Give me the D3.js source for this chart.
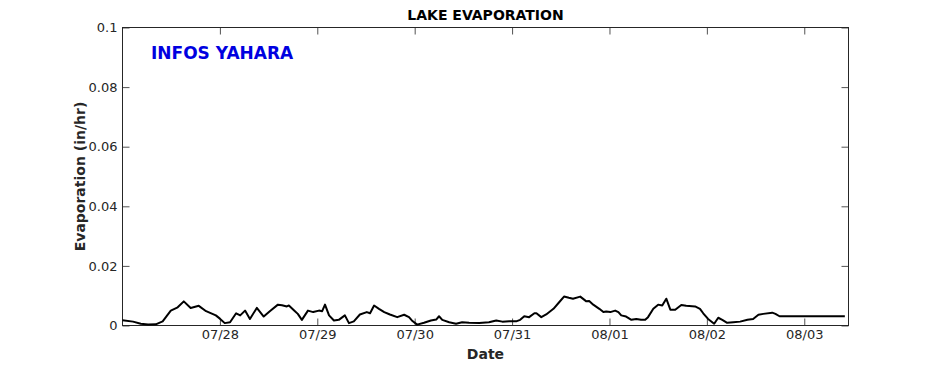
<!DOCTYPE html>
<html>
<head>
<meta charset="utf-8">
<script src="https://cdn.jsdelivr.net/npm/d3@7"></script>
<style>
  html, body { margin: 0; padding: 0; background: #fff; }
  svg { display: block; font-family: "DejaVu Sans", sans-serif; }
</style>
</head>
<body>
<svg id="chart" width="938" height="365"></svg>
<script>
// ---- data (hours after 07/27 00:00, evaporation in/hr) ----
const baseDate = new Date(2016, 6, 27, 0, 0);
const hours = [
  0, 2.6, 4.5, 6.3, 8.2, 9.9, 11.9, 13.6, 15.1, 16.8, 18.8, 20.6, 23.0,
  24, 25.2, 26.5, 28, 29, 30.2, 31.4, 33.1, 34.8, 36.3, 38.3, 39.3, 40.5, 41, 42.5, 43.2, 44.2, 45.7, 47,
  48.4, 49.2, 49.9, 50.9, 52.1, 53.3, 54.8, 55.8, 57.0, 58.5, 60.2, 61, 62, 63.2, 64.5, 65.9, 67.7, 69.4, 70.6, 71.3,
  72.6, 74.3, 76.0, 77.3, 78, 78.8, 80.5, 82.2, 83.7, 85.4, 87.9, 90.3, 92.1, 93.6, 95.3,
  97, 98, 99, 100.2, 101.5, 102, 103.2, 104.4, 106.2, 107.6, 108.8, 110, 111, 112.8, 114.3, 115, 116, 117.5, 118.5, 119.2,
  120.2, 121.4, 122.2, 122.9, 124.1, 125.4, 126.6, 127.8, 128.8, 129.5, 130.8, 132, 133, 134, 135, 136.2, 137.7, 138.9, 141.1, 142.3, 143.1,
  144.3, 145.8, 146.8, 147.8, 149, 150.5, 152.2, 154, 155.4, 156.7, 157.9, 160.1, 160.9, 161.9, 166, 170, 174, 178
];
const evap = [
  0.0018, 0.0013, 0.0006, 0.0003, 0.0004, 0.0014, 0.0050, 0.0061, 0.0081, 0.0059, 0.0066, 0.0048, 0.0034,
  0.0023, 0.0008, 0.0011, 0.0041, 0.0034, 0.0050, 0.0022, 0.0059, 0.0030, 0.0048, 0.0070, 0.0068, 0.0064, 0.0067, 0.0048, 0.0039, 0.0019, 0.0050, 0.0045,
  0.0050, 0.0048, 0.0070, 0.0034, 0.0017, 0.0019, 0.0034, 0.0008, 0.0014, 0.0037, 0.0045, 0.0041, 0.0067, 0.0056, 0.0045, 0.0037, 0.0028, 0.0036, 0.0028, 0.0017,
  0.0003, 0.0009, 0.0017, 0.0020, 0.0031, 0.0019, 0.0011, 0.0006, 0.0011, 0.0009, 0.0008, 0.0011, 0.0017, 0.0013, 0.0014,
  0.0014, 0.0019, 0.0031, 0.0028, 0.0041, 0.0041, 0.0028, 0.0037, 0.0056, 0.0078, 0.0097, 0.0093, 0.0090, 0.0097, 0.0081, 0.0082, 0.0070, 0.0056, 0.0045, 0.0047,
  0.0045, 0.0050, 0.0045, 0.0034, 0.0030, 0.0019, 0.0022, 0.0019, 0.0019, 0.0028, 0.0056, 0.0070, 0.0067, 0.0090, 0.0053, 0.0053, 0.0069, 0.0066, 0.0064, 0.0056, 0.0041,
  0.0022, 0.0006, 0.0026, 0.0019, 0.0009, 0.0011, 0.0013, 0.0019, 0.0022, 0.0036, 0.0039, 0.0043, 0.0039, 0.0031, 0.0031, 0.0031, 0.0031, 0.0031
];
const xTickDays = ["07/28", "07/29", "07/30", "07/31", "08/01", "08/02", "08/03"];
const yTicks = [0, 0.02, 0.04, 0.06, 0.08, 0.1];
const yTickLabels = ["0", "0.02", "0.04", "0.06", "0.08", "0.1"];
const domainEndHours = 178.9;

// ---- layout ----
const svg = d3.select("#chart");
const L = 122.5, R = 848.5, T = 27.5, B = 325.5;
const tickLen = 7;
const textColor = "#262626";

const toDate = h => new Date(baseDate.getTime() + h * 3600 * 1000);
const data = hours.map((h, i) => ({ t: toDate(h), v: evap[i] }));

const x = d3.scaleTime()
  .domain([baseDate, toDate(domainEndHours)])
  .range([L, R]);
const y = d3.scaleLinear().domain([0, 0.1]).range([B, T]);

const parseTick = d3.timeParse("%Y/%m/%d");
const xTickDates = xTickDays.map(s => parseTick("2016/" + s));

// bottom axis (ticks inward)
const xAxisB = d3.axisBottom(x).tickValues(xTickDates)
  .tickFormat(d3.timeFormat("%m/%d")).tickSizeInner(-tickLen).tickSizeOuter(0).tickPadding(4);
const gxb = svg.append("g").attr("transform", `translate(0,${B})`).call(xAxisB);
// top axis (ticks only)
const xAxisT = d3.axisTop(x).tickValues(xTickDates).tickFormat("").tickSizeInner(-tickLen).tickSizeOuter(0);
const gxt = svg.append("g").attr("transform", `translate(0,${T})`).call(xAxisT);
// left axis
const yAxisL = d3.axisLeft(y).tickValues(yTicks).tickFormat((d, i) => yTickLabels[i])
  .tickSizeInner(-tickLen).tickSizeOuter(0).tickPadding(5);
const gyl = svg.append("g").attr("transform", `translate(${L},0)`).call(yAxisL);
// right axis
const yAxisR = d3.axisRight(y).tickValues(yTicks).tickFormat("").tickSizeInner(-tickLen).tickSizeOuter(0);
const gyr = svg.append("g").attr("transform", `translate(${R},0)`).call(yAxisR);

[gxb, gxt, gyl, gyr].forEach(g => {
  g.select(".domain").remove();
  g.selectAll(".tick line").attr("stroke", textColor).attr("stroke-width", 0.8);
  g.selectAll(".tick text").attr("fill", textColor)
    .style("font-family", "'DejaVu Sans', sans-serif").style("font-size", "13px");
});

// box
svg.append("rect").attr("x", L).attr("y", T).attr("width", R - L).attr("height", B - T)
  .attr("fill", "none").attr("stroke", textColor).attr("stroke-width", 1);

// line
const line = d3.line().x(d => x(d.t)).y(d => y(d.v));
svg.append("path").datum(data).attr("d", line)
  .attr("fill", "none").attr("stroke", "#000").attr("stroke-width", 2).attr("stroke-linejoin", "round");

// texts
svg.append("text").attr("x", (L + R) / 2).attr("y", 20).attr("text-anchor", "middle")
  .style("font-weight", "bold").style("font-size", "14px").attr("fill", "#000").text("LAKE EVAPORATION");
svg.append("text").attr("x", (L + R) / 2).attr("y", 359).attr("text-anchor", "middle")
  .style("font-weight", "bold").style("font-size", "14px").attr("fill", textColor).text("Date");
svg.append("text").attr("transform", `translate(85,${(T + B) / 2}) rotate(-90)`).attr("text-anchor", "middle")
  .style("font-weight", "bold").style("font-size", "14px").attr("fill", textColor).text("Evaporation (in/hr)");
svg.append("text").attr("x", 151).attr("y", 59)
  .style("font-weight", "bold").style("font-size", "17px").attr("fill", "#0000e0").text("INFOS YAHARA");
</script>
</body>
</html>
